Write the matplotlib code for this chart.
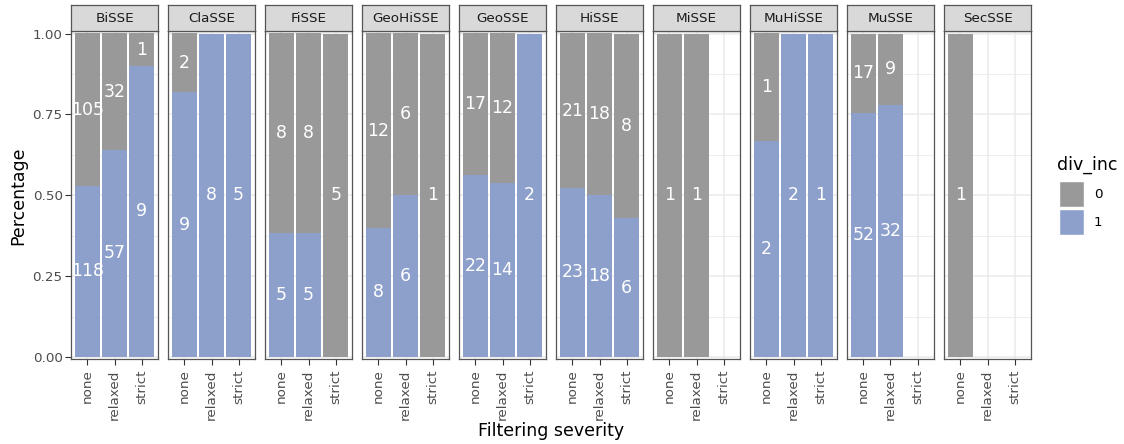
import numpy as np
import matplotlib
matplotlib.use("Agg")
import matplotlib.pyplot as plt
from matplotlib.patches import Rectangle

# --- data ---
models = ["BiSSE", "ClaSSE", "FiSSE", "GeoHiSSE", "GeoSSE",
          "HiSSE", "MiSSE", "MuHiSSE", "MuSSE", "SecSSE"]
severities = ["none", "relaxed", "strict"]
# counts per model for (none, relaxed, strict)
count_0 = [[105, 32, 1], [2, 0, 0], [8, 8, 5], [12, 6, 1], [17, 12, 0],
           [21, 18, 8], [1, 1, 0], [1, 0, 0], [17, 9, 0], [1, 0, 0]]
count_1 = [[118, 57, 9], [9, 8, 5], [5, 5, 0], [8, 6, 0], [22, 14, 2],
           [23, 18, 6], [0, 0, 0], [2, 2, 1], [52, 32, 0], [0, 0, 0]]
yticks = [0.0, 0.25, 0.5, 0.75, 1.0]
ytick_labels = ["0.00", "0.25", "0.50", "0.75", "1.00"]

col0 = "#999999"
col1 = "#8DA0CB"
grid_col = "#EBEBEB"
border = "#555555"
dark = "#333333"

small, big = 9.7, 12.5

W, H = 1124, 444
fig = plt.figure(figsize=(W / 100, H / 100), dpi=100)


def px_axes(x0, y0, x1, y1):
    # pixel box (top-left origin) -> figure axes
    return fig.add_axes([x0 / W, 1 - y1 / H, (x1 - x0) / W, (y1 - y0) / H])


panel_left, panel_w, gap = 71, 87, 10
panel_top, panel_bot = 31, 359
strip_top = 5
# 1.00 sits near y=33.5 and 0 near y=357
scale = (357 - 33.5)
ylo = -(panel_bot - 357) / scale
yhi = 1 + (33.5 - panel_top) / scale

x = np.arange(1, 4)
for i, m in enumerate(models):
    x0 = panel_left + i * (panel_w + gap)
    ax = px_axes(x0, panel_top, x0 + panel_w, panel_bot)
    ax.set_xlim(0.4, 3.6)
    ax.set_ylim(ylo, yhi)

    # grid (theme_bw style)
    for gy in [0.125, 0.375, 0.625, 0.875]:
        ax.axhline(gy, color=grid_col, lw=0.6, zorder=0)
    for gy in yticks:
        ax.axhline(gy, color=grid_col, lw=1.1, zorder=0)
    for gx in x:
        ax.axvline(gx, color=grid_col, lw=1.1, zorder=0)

    c0 = np.array(count_0[i], dtype=float)
    c1 = np.array(count_1[i], dtype=float)
    tot = c0 + c1
    with np.errstate(invalid="ignore", divide="ignore"):
        p1 = np.where(tot > 0, c1 / tot, 0)
        p0 = np.where(tot > 0, c0 / tot, 0)
    ax.bar(x, p1, width=0.9, color=col1, zorder=2)
    ax.bar(x, p0, width=0.9, bottom=p1, color=col0, zorder=2)

    for j in range(3):
        if c1[j] > 0:
            ax.text(x[j], p1[j] / 2, f"{int(c1[j])}", color="white",
                    ha="center", va="center", fontsize=big, zorder=3)
        if c0[j] > 0:
            ax.text(x[j], p1[j] + p0[j] / 2, f"{int(c0[j])}", color="white",
                    ha="center", va="center", fontsize=big, zorder=3)

    for s in ax.spines.values():
        s.set_color(border)
        s.set_linewidth(0.9)
        s.set_zorder(4)

    ax.set_xticks(x)
    ax.set_xticklabels(severities, rotation=90, fontsize=small, color="#4D4D4D")
    ax.tick_params(axis="x", length=4, width=0.8, color=dark, pad=3.5)
    ax.set_yticks(yticks)
    if i == 0:
        ax.set_yticklabels(ytick_labels, fontsize=small, color="#4D4D4D")
        ax.tick_params(axis="y", length=4, width=0.8, color=dark, pad=2)
    else:
        ax.tick_params(axis="y", length=0, labelleft=False)

    # strip
    sax = px_axes(x0, strip_top, x0 + panel_w, panel_top)
    sax.set_xticks([])
    sax.set_yticks([])
    sax.set_facecolor("#D9D9D9")
    for s in sax.spines.values():
        s.set_color(border)
        s.set_linewidth(0.9)
    sax.text(0.5, 0.47, m, ha="center", va="center", fontsize=small,
             color="#1A1A1A", transform=sax.transAxes)

panel_right = panel_left + 9 * (panel_w + gap) + panel_w
fig.text((panel_left + panel_right) / 2 / W, 1 - 431 / H, "Filtering severity",
         ha="center", va="center", fontsize=big)
fig.text(18 / W, 1 - 196 / H, "Percentage", rotation=90,
         ha="center", va="center", fontsize=big)

# legend
fig.text(1057 / W, 1 - 165 / H, "div_inc", ha="left", va="center", fontsize=big)
for k, (lab, col) in enumerate([("0", col0), ("1", col1)]):
    ky = 181 + k * 28
    fig.patches.append(Rectangle((1059 / W, 1 - (ky + 26) / H), 25 / W, 26 / H,
                                 transform=fig.transFigure, facecolor=col,
                                 edgecolor="white", lw=1))
    fig.text(1094 / W, 1 - (ky + 13) / H, lab, ha="left", va="center",
             fontsize=small, color="black")

fig.savefig("out.png", dpi=100)
